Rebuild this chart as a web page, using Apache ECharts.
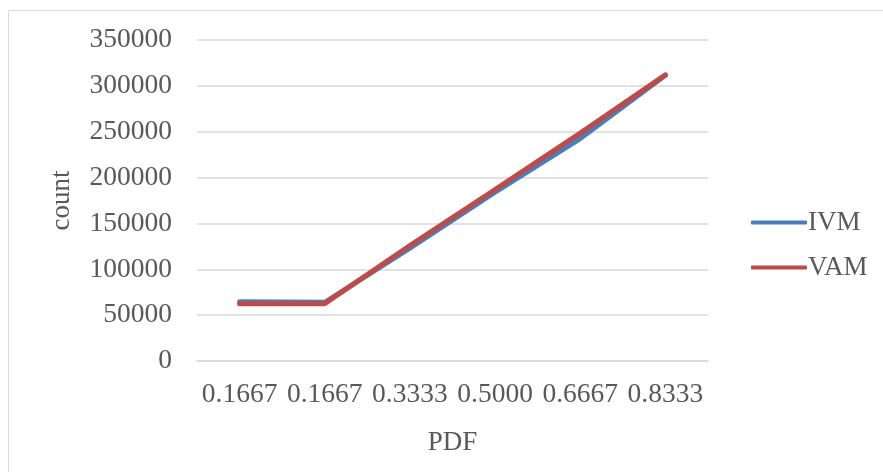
<!DOCTYPE html>
<html>
<head>
<meta charset="utf-8">
<script src="https://cdn.jsdelivr.net/npm/echarts@6/dist/echarts.min.js"></script>
<style>
html,body{margin:0;padding:0;background:#fff;}
#chart{width:883px;height:472px;}
</style>
</head>
<body>
<div id="chart"></div>
<script>
const categories = ['0.1667', '0.1667', '0.3333', '0.5000', '0.6667', '0.8333'];
const ivmValues = [64500, 64000, 123000, 184000, 242500, 311500];
const vamValues = [62500, 62500, 126000, 187000, 248500, 312000];
const yTicks = { min: 0, max: 350000, interval: 50000 };

const font = 'Liberation Serif';
const textColor = '#595959';

const chart = echarts.init(document.getElementById('chart'), null, { renderer: 'canvas' });
chart.setOption({
  backgroundColor: '#ffffff',
  animation: false,
  graphic: [{
    type: 'rect',
    shape: { x: 8.5, y: 10.5, width: 900, height: 500 },
    style: { fill: 'none', stroke: '#d9d9d9', lineWidth: 1 },
    silent: true
  }],
  grid: { left: 197, right: 175, top: 40, bottom: 111, containLabel: false },
  legend: {
    orient: 'vertical',
    left: 746,
    top: 204,
    itemWidth: 56,
    itemHeight: 4,
    itemGap: 18,
    icon: 'roundRect',
    textStyle: { fontFamily: font, fontSize: 27, color: textColor, padding: [0, 0, 0, -4] },
    data: ['IVM', 'VAM']
  },
  xAxis: {
    type: 'category',
    data: categories,
    boundaryGap: true,
    name: 'PDF',
    nameLocation: 'middle',
    nameGap: 68,
    nameTextStyle: { fontFamily: font, fontSize: 27, color: textColor },
    axisLine: { show: true, lineStyle: { color: '#d9d9d9', width: 1.5 } },
    axisTick: { show: false },
    axisLabel: { fontFamily: font, fontSize: 27.5, color: textColor, margin: 20, interval: 0 },
    splitLine: { show: false }
  },
  yAxis: {
    type: 'value',
    min: yTicks.min,
    max: yTicks.max,
    interval: yTicks.interval,
    name: 'count',
    nameLocation: 'middle',
    nameGap: 122,
    nameRotate: 90,
    nameTextStyle: { fontFamily: font, fontSize: 27, color: textColor },
    axisLine: { show: false },
    axisTick: { show: false },
    axisLabel: {
      fontFamily: font, fontSize: 27.5, color: textColor, margin: 25,
      formatter: function (v) { return String(v); }
    },
    splitLine: { show: true, lineStyle: { color: '#d9d9d9', width: 1.5 } }
  },
  series: [
    {
      name: 'IVM',
      type: 'line',
      data: ivmValues,
      showSymbol: false,
      symbol: 'none',
      lineStyle: { color: '#4a7ebb', width: 5, cap: 'round', join: 'round' },
      itemStyle: { color: '#4a7ebb' }
    },
    {
      name: 'VAM',
      type: 'line',
      data: vamValues,
      showSymbol: false,
      symbol: 'none',
      lineStyle: { color: '#be4b48', width: 5, cap: 'round', join: 'round' },
      itemStyle: { color: '#be4b48' }
    }
  ]
});
</script>
</body>
</html>
